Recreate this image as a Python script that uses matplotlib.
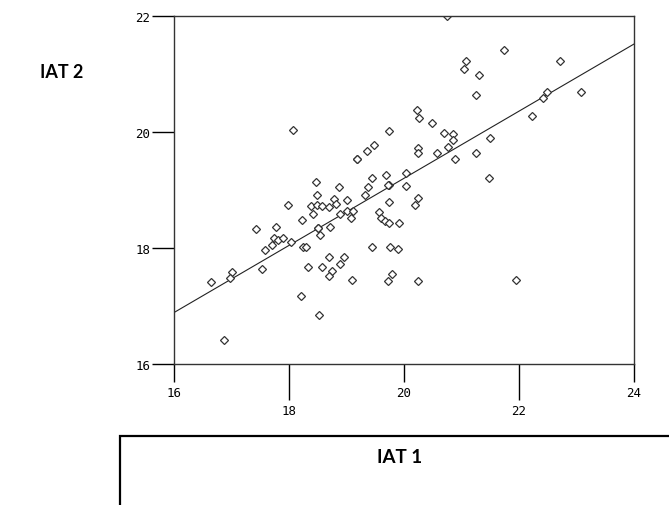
import numpy as np
import matplotlib
matplotlib.use("Agg")
import matplotlib.pyplot as plt
from matplotlib.patches import Rectangle

# IAT 1 (x) and IAT 2 (y) scores
iat1 = [18.07, 19.74, 19.47, 19.35, 19.18, 19.18, 18.47, 18.87, 19.45, 19.38,
        19.68, 19.74, 19.72, 20.04, 20.04, 20.75, 21.74, 21.08, 21.04, 21.30,
        22.72, 21.25, 22.49, 22.41, 23.08, 20.23, 20.26, 20.49, 22.22, 20.70,
        20.85, 20.85, 20.77, 20.25, 20.25, 20.58, 21.25, 20.89, 21.49, 21.47,
        20.25, 20.19, 20.25, 21.95, 18.48, 17.99, 18.39, 18.49, 18.58, 18.69,
        18.79, 18.82, 19.00, 19.33, 19.74, 18.88, 19.01, 19.12, 19.07, 18.41,
        18.22, 19.57, 19.60, 19.67, 19.74, 19.91, 18.51, 18.51, 18.54, 18.72,
        17.42, 17.77, 17.74, 17.81, 17.89, 18.04, 17.70, 17.58, 18.24, 18.30,
        19.45, 19.76, 19.89, 18.70, 18.95, 18.89, 18.33, 18.58, 18.74, 18.70,
        19.10, 19.79, 19.72, 17.01, 16.97, 16.64, 17.53, 18.20, 18.53, 16.87]
iat2 = [20.03, 20.01, 19.78, 19.67, 19.53, 19.53, 19.14, 19.05, 19.20, 19.05,
        19.26, 19.09, 19.08, 19.29, 19.07, 22.00, 21.42, 21.23, 21.09, 20.98,
        21.23, 20.63, 20.69, 20.59, 20.69, 20.38, 20.24, 20.16, 20.28, 19.98,
        19.96, 19.86, 19.75, 19.72, 19.64, 19.63, 19.64, 19.53, 19.90, 19.21,
        18.86, 18.74, 17.43, 17.45, 18.91, 18.74, 18.73, 18.75, 18.72, 18.70,
        18.84, 18.76, 18.82, 18.91, 18.80, 18.59, 18.64, 18.64, 18.51, 18.59,
        18.49, 18.62, 18.51, 18.47, 18.43, 18.43, 18.34, 18.34, 18.22, 18.37,
        18.32, 18.37, 18.18, 18.14, 18.18, 18.10, 18.06, 17.97, 18.01, 18.01,
        18.01, 18.02, 17.99, 17.85, 17.85, 17.72, 17.68, 17.68, 17.60, 17.51,
        17.45, 17.56, 17.43, 17.58, 17.48, 17.41, 17.64, 17.18, 16.85, 16.42]

x_major = [16, 20, 24]
x_minor = [18, 22]
y_ticks = [16, 18, 20, 22]

fig = plt.figure(figsize=(6.69, 5.06), dpi=100)
ax = fig.add_axes([174 / 669, 1 - 365 / 506, 460 / 669, 348 / 506])

x = np.array(iat1)
y = np.array(iat2)
slope, icept = np.polyfit(x, y, 1)
xl = np.array([16, 24])
ax.plot(xl, icept + slope * xl, color="#222222", lw=0.8)

ax.plot(x, y, linestyle="none", marker="D", markersize=4.2,
        markerfacecolor="white", markeredgecolor="#333333", markeredgewidth=0.9)

ax.set_xlim(16, 24)
ax.set_ylim(16, 22)
for s in ax.spines.values():
    s.set_color("#333333")
    s.set_linewidth(1.0)

tickfont = {"family": "DejaVu Sans Mono", "size": 9}
ax.set_xticks(x_major)
ax.set_xticklabels([str(v) for v in x_major], fontdict=tickfont)
ax.set_xticks(x_minor, minor=True)
ax.set_xticklabels([str(v) for v in x_minor], minor=True, fontdict=tickfont)
ax.tick_params(axis="x", which="major", direction="out", length=13, width=1, pad=3)
ax.tick_params(axis="x", which="minor", direction="out", length=26, width=1, pad=3)
ax.set_yticks(y_ticks)
ax.set_yticklabels([str(v) for v in y_ticks], fontdict=tickfont)
ax.tick_params(axis="y", direction="out", length=16, width=1, pad=1)

fig.text(62 / 669, 1 - 72 / 506, "IAT 2", fontsize=13, fontweight="bold",
         family="Lato", ha="center", va="center")

box = Rectangle((120 / 669, -0.1), 1.0, 0.1 + 1 - 437 / 506, fill=False,
                lw=1.6, edgecolor="black", transform=fig.transFigure, clip_on=False)
fig.add_artist(box)
fig.text(400 / 669, 1 - 458 / 506, "IAT 1", fontsize=13.5, fontweight="bold",
         family="Lato", ha="center", va="center")

fig.savefig("out.png", dpi=100)
